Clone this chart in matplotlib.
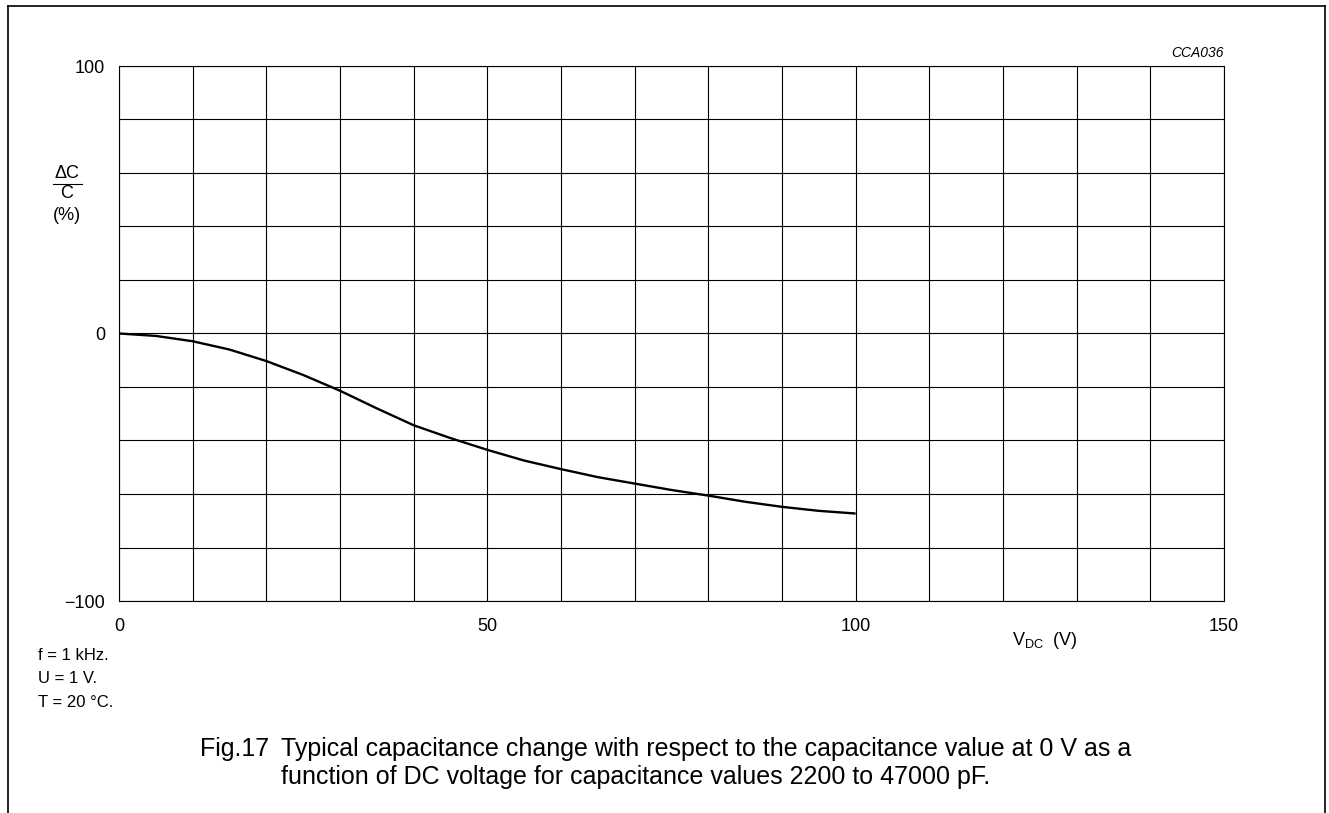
import matplotlib
matplotlib.use('Agg')
import matplotlib.pyplot as plt
import numpy as np
from matplotlib.lines import Line2D

plt.rcParams.update({
    'font.family': ['Liberation Sans', 'DejaVu Sans'],
    'font.size': 13,
    'axes.linewidth': 0.8,
    'mathtext.fontset': 'custom',
    'mathtext.rm': 'Liberation Sans',
})

# data
v_dc = [0, 5, 10, 15, 20, 25, 30, 35, 40, 45, 50, 55, 60, 65, 70, 75, 80, 85, 90, 95, 100]
dc_c = [0, -0.9, -2.9, -6.0, -10.3, -15.5, -21.4, -28.0, -34.3, -39.1, -43.5, -47.5,
        -50.7, -53.7, -56.1, -58.5, -60.6, -62.9, -64.8, -66.3, -67.3]

x_ticks = [0, 50, 100, 150]
y_ticks = [-100, 0, 100]
y_tick_labels = ['\u2212100', '0', '100']

conditions = ['f = 1 kHz.', 'U = 1 V.', 'T = 20 \u00b0C.']
fig_no = 'Fig.17'
caption1 = 'Typical capacitance change with respect to the capacitance value at 0 V as a'
caption2 = 'function of DC voltage for capacitance values 2200 to 47000 pF.'

W, H = 1329, 813
fig = plt.figure(figsize=(W / 100, H / 100), dpi=100)
ax = fig.add_axes([119 / W, 1 - 601 / H, (1224 - 119) / W, (601 - 66) / H])

ax.plot(v_dc, dc_c, color='black', linewidth=1.7, solid_capstyle='butt')

ax.set_xlim(0, 150)
ax.set_ylim(-100, 100)
ax.set_xticks(np.arange(0, 151, 10), minor=True)
ax.set_yticks(np.arange(-100, 101, 20), minor=True)
ax.set_xticks(x_ticks)
ax.set_yticks(y_ticks, y_tick_labels)
ax.grid(True, which='both', color='black', linewidth=0.8)
ax.tick_params(which='both', length=0)
ax.tick_params(axis='x', pad=12)
ax.tick_params(axis='y', pad=10)
for s in ax.spines.values():
    s.set_color('black')
    s.set_linewidth(0.8)

# y-axis label as a fraction
fig.text(67 / W, 1 - 173 / H, '\u0394C', ha='center', va='center', fontsize=13)
fig.add_artist(Line2D([53 / W, 82 / W], [1 - 184 / H] * 2, color='black', linewidth=0.8))
fig.text(67 / W, 1 - 194 / H, 'C', ha='center', va='center', fontsize=13)
fig.text(67 / W, 1 - 215 / H, '(%)', ha='center', va='center', fontsize=13)

fig.text(1012 / W, 1 - 645 / H, r'V$_{\mathrm{DC}}$  (V)', ha='left', va='baseline', fontsize=13)
fig.text(1224 / W, 1 - 53 / H, 'CCA036', ha='right', va='center', fontsize=10, style='italic')

for i, t in enumerate(conditions):
    fig.text(38 / W, 1 - (655 + 23.5 * i) / H, t, ha='left', va='center', fontsize=12)

fig.text(200 / W, 1 - 749 / H, fig_no, ha='left', va='center', fontsize=18)
fig.text(281 / W, 1 - 749 / H, caption1, ha='left', va='center', fontsize=18)
fig.text(281 / W, 1 - 777 / H, caption2, ha='left', va='center', fontsize=18)

# page frame
frame_kw = dict(color='black', linewidth=1.2)
fig.add_artist(Line2D([8 / W, 8 / W], [0, 1 - 6 / H], **frame_kw))
fig.add_artist(Line2D([8 / W, 1325 / W], [1 - 6 / H] * 2, **frame_kw))
fig.add_artist(Line2D([1325 / W, 1325 / W], [0, 1 - 6 / H], **frame_kw))

fig.savefig('out.png', dpi=100)
